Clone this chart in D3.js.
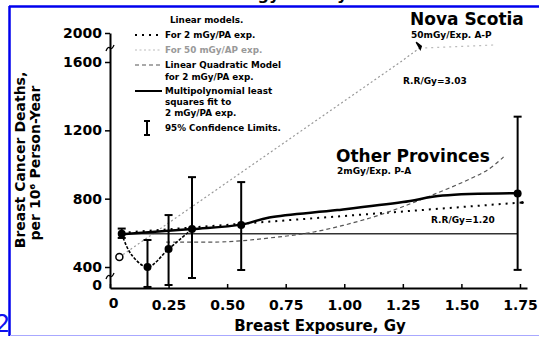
<!DOCTYPE html>
<html>
<head>
<meta charset="utf-8">
<script src="https://cdn.jsdelivr.net/npm/d3@7"></script>
<style>
  body { margin: 0; background: #fff; }
  svg text { font-family: "DejaVu Sans", sans-serif; font-weight: bold; fill: #000; }
</style>
</head>
<body>
<div id="chart"></div>
<script>
// observed points, Other Provinces (2 mGy/PA exp.)
const doses = [0.05, 0.16, 0.25, 0.35, 0.56, 1.74];
const rates = [595, 400, 505, 622, 646, 830];
const ciLow = [570, 20, 57, 190, 343, 345];
const ciHigh = [625, 558, 704, 926, 897, 1280];

// open circle, Nova Scotia baseline
const novaPoint = [0.04, 458];

// linear model for 2 mGy/PA exp.
const lin2Dose = [0.05, 1.76];
const lin2Rate = [600, 778];

// linear model for 50 mGy/AP exp. (Nova Scotia)
const novaDose = [0.04, 1.24, 1.32, 1.64];
const novaRate = [458, 1600, 1790, 1835];

// linear quadratic model for 2 mGy/PA exp.
const lqDose = [0.24, 0.5, 0.68, 0.87, 1.11, 1.3, 1.61, 1.68];
const lqRate = [546, 548, 570, 605, 687, 780, 967, 1045];

// multipolynomial least squares fit
const mpDose = [0.05, 0.35, 0.56, 0.68, 0.97, 1.25, 1.42, 1.74];
const mpRate = [592, 622, 648, 690, 733, 780, 818, 832];

// dip through the low dose points
const dipDose = [0.05, 0.09, 0.16, 0.25, 0.35];
const dipRate = [595, 475, 400, 505, 622];

// flat reference level
const flatDose = [0.05, 1.74];
const flatRate = [595, 595];

const xTicks = [0, 0.25, 0.5, 0.75, 1, 1.25, 1.5, 1.75];
const yTicks = [0, 400, 800, 1200, 1600, 2000];

let width = 539, height = 337;
let svg = d3.select("#chart").append("svg").attr("width", width).attr("height", height);

// page frame
svg.append("line").attr("x1", 9.5).attr("x2", 9.5).attr("y1", 6).attr("y2", 336).attr("stroke", "#0000ee").attr("stroke-width", 2.5);
svg.append("line").attr("x1", 9).attr("x2", 539).attr("y1", 6.5).attr("y2", 6.5).attr("stroke", "#0000ee").attr("stroke-width", 2.5);
svg.append("line").attr("x1", 10).attr("x2", 539).attr("y1", 335.5).attr("y2", 335.5).attr("stroke", "#a8a8ff").attr("stroke-width", 1);
svg.append("text").attr("x", -5).attr("y", 332).style("font-size", "24px").style("font-weight", "normal").style("fill", "#1010ee").text("2");
// title above the frame, only its descenders show
svg.append("text").attr("x", 190).attr("y", -0.5).style("font-size", "16px").text("Radiology Survey");

// scales, y axis broken below 400 and above 1600
let x = d3.scaleLinear().domain([0, 1.78]).range([110, 527]);
let y = d3.scaleLinear().domain([0, 400, 1600, 2000]).range([288, 267, 62, 33]);

let xAxis = svg.append("g").attr("transform", "translate(0,288)")
  .call(d3.axisBottom(x).tickValues(xTicks).tickSizeInner(-4).tickSizeOuter(0).tickPadding(12)
    .tickFormat(d => d === 0 ? "0" : d3.format(".2f")(d)));
let yAxis = svg.append("g").attr("transform", "translate(110,0)")
  .call(d3.axisLeft(y).tickValues(yTicks).tickSize(5).tickSizeOuter(0).tickPadding(3).tickFormat(d3.format("d")));
[xAxis, yAxis].forEach(a => {
  a.select(".domain").attr("stroke", "#000").attr("stroke-width", 2);
  a.selectAll(".tick line").attr("stroke", "#000").attr("stroke-width", 1.5);
  a.selectAll("text").style("font-size", "14px").style("font-family", "DejaVu Sans").style("font-weight", "bold").attr("fill", "#000");
});
xAxis.selectAll(".tick").filter(d => d === 0).select("text").attr("dx", 3).attr("dy", "0.55em");
yAxis.selectAll(".tick").filter(d => d === 0).select("line").remove();
yAxis.selectAll(".tick").filter(d => d === 0).select("text").attr("dy", "0.1em");

// axis break marks
[48, 276].forEach(by => {
  svg.append("path").attr("d", "M106," + (by + 3) + " q2,-5 4,-3 t4,-3").attr("fill", "none").attr("stroke", "#000").attr("stroke-width", 1.3);
});

// axis titles
svg.append("text").attr("transform", "translate(25,160) rotate(-90)").attr("text-anchor", "middle").style("font-size", "14px").text("Breast Cancer Deaths,");
svg.append("text").attr("transform", "translate(40,163) rotate(-90)").attr("text-anchor", "middle").style("font-size", "14px").text("per 10⁶ Person-Year");
svg.append("text").attr("x", 320).attr("y", 331).attr("text-anchor", "middle").style("font-size", "15px").text("Breast Exposure, Gy");

// model lines
let pair = (xs, ys) => xs.map((d, i) => [d, ys[i]]);
let line = d3.line().x(d => x(d[0])).y(d => y(d[1]));
let smooth = d3.line().x(d => x(d[0])).y(d => y(d[1])).curve(d3.curveCatmullRom);

svg.append("path").datum(pair(novaDose.slice(0, 3), novaRate.slice(0, 3))).attr("d", line)
  .attr("fill", "none").attr("stroke", "#999").attr("stroke-width", 1.2).attr("stroke-dasharray", "2,2.5");
svg.append("path").datum(pair(novaDose.slice(2), novaRate.slice(2))).attr("d", line)
  .attr("fill", "none").attr("stroke", "#bbb").attr("stroke-width", 1.2).attr("stroke-dasharray", "2,4");
svg.append("path").attr("d", "M" + (x(novaDose[2]) - 3) + "," + (y(novaRate[2]) - 6) + " l5,4 l-1,3 z")
  .attr("fill", "#000").attr("stroke", "#000").attr("stroke-width", 1.5);

svg.append("path").datum(pair(flatDose, flatRate)).attr("d", line)
  .attr("fill", "none").attr("stroke", "#333").attr("stroke-width", 1.6);
svg.append("path").datum(pair(lin2Dose, lin2Rate)).attr("d", line)
  .attr("fill", "none").attr("stroke", "#000").attr("stroke-width", 2).attr("stroke-dasharray", "2,5");
svg.append("path").datum(pair(lqDose, lqRate)).attr("d", smooth)
  .attr("fill", "none").attr("stroke", "#555").attr("stroke-width", 1.2).attr("stroke-dasharray", "4,3");
svg.append("path").datum(pair(mpDose, mpRate)).attr("d", smooth)
  .attr("fill", "none").attr("stroke", "#000").attr("stroke-width", 2.5);
svg.append("path").datum(pair(dipDose, dipRate)).attr("d", smooth)
  .attr("fill", "none").attr("stroke", "#000").attr("stroke-width", 1.6).attr("stroke-dasharray", "3,1.5");

// error bars
let bars = svg.append("g").selectAll("g").data(doses).enter().append("g");
bars.append("line").attr("x1", d => x(d)).attr("x2", d => x(d))
  .attr("y1", (d, i) => y(ciLow[i])).attr("y2", (d, i) => y(ciHigh[i])).attr("stroke", "#000").attr("stroke-width", 2);
bars.append("line").attr("x1", d => x(d) - 4).attr("x2", d => x(d) + 4)
  .attr("y1", (d, i) => y(ciHigh[i])).attr("y2", (d, i) => y(ciHigh[i])).attr("stroke", "#000").attr("stroke-width", 2);
bars.append("line").attr("x1", d => x(d) - 4).attr("x2", d => x(d) + 4)
  .attr("y1", (d, i) => y(ciLow[i])).attr("y2", (d, i) => y(ciLow[i])).attr("stroke", "#000").attr("stroke-width", 2);

// points
svg.append("g").selectAll("circle").data(doses).enter().append("circle")
  .attr("cx", d => x(d)).attr("cy", (d, i) => y(rates[i])).attr("r", 4).attr("fill", "#000");
svg.append("circle").attr("cx", x(novaPoint[0])).attr("cy", y(novaPoint[1])).attr("r", 3.5)
  .attr("fill", "#fff").attr("stroke", "#000").attr("stroke-width", 1.5);
svg.append("circle").attr("cx", x(lin2Dose[1])).attr("cy", y(lin2Rate[1])).attr("r", 1.5).attr("fill", "#000");

// annotations
let note = (tx, ty, size, str) => svg.append("text").attr("x", tx).attr("y", ty).style("font-size", size + "px").text(str);
note(410, 25, 17, "Nova Scotia");
note(411, 38, 9, "50mGy/Exp. A-P");
note(403, 84, 9, "R.R/Gy=3.03");
note(336, 162, 17, "Other Provinces");
note(337, 174, 9, "2mGy/Exp. P-A");
note(431, 223, 9, "R.R/Gy=1.20");

// legend
let lg = svg.append("g");
let sample = (sy, color, w, dash) => lg.append("line").attr("x1", 135).attr("x2", 162).attr("y1", sy).attr("y2", sy)
  .attr("stroke", color).attr("stroke-width", w).attr("stroke-dasharray", dash);
sample(35, "#000", 2, "2,5");
sample(50, "#bbb", 1.2, "2,2.5");
sample(65, "#555", 1.2, "4,3");
sample(91, "#000", 2, null);
lg.append("line").attr("x1", 147).attr("x2", 147).attr("y1", 121).attr("y2", 135).attr("stroke", "#000").attr("stroke-width", 2);
lg.append("line").attr("x1", 144).attr("x2", 150).attr("y1", 121).attr("y2", 121).attr("stroke", "#000").attr("stroke-width", 2);
lg.append("line").attr("x1", 144).attr("x2", 150).attr("y1", 135).attr("y2", 135).attr("stroke", "#000").attr("stroke-width", 2);

let legendLines = [
  [170, 23, "Linear models.", "#000"],
  [165, 38, "For 2 mGy/PA exp.", "#000"],
  [165, 53, "For 50 mGy/AP exp.", "#999"],
  [165, 68, "Linear Quadratic Model", "#000"],
  [165, 80, "for 2 mGy/PA exp.", "#000"],
  [165, 94, "Multipolynomial least", "#000"],
  [165, 105, "squares fit to", "#000"],
  [165, 116, "2 mGy/PA exp.", "#000"],
  [165, 131, "95% Confidence Limits.", "#000"]
];
lg.selectAll("text.lg").data(legendLines).enter().append("text").attr("class", "lg")
  .attr("x", d => d[0]).attr("y", d => d[1]).style("font-size", "8.8px").style("fill", d => d[3]).text(d => d[2]);
</script>
</body>
</html>
